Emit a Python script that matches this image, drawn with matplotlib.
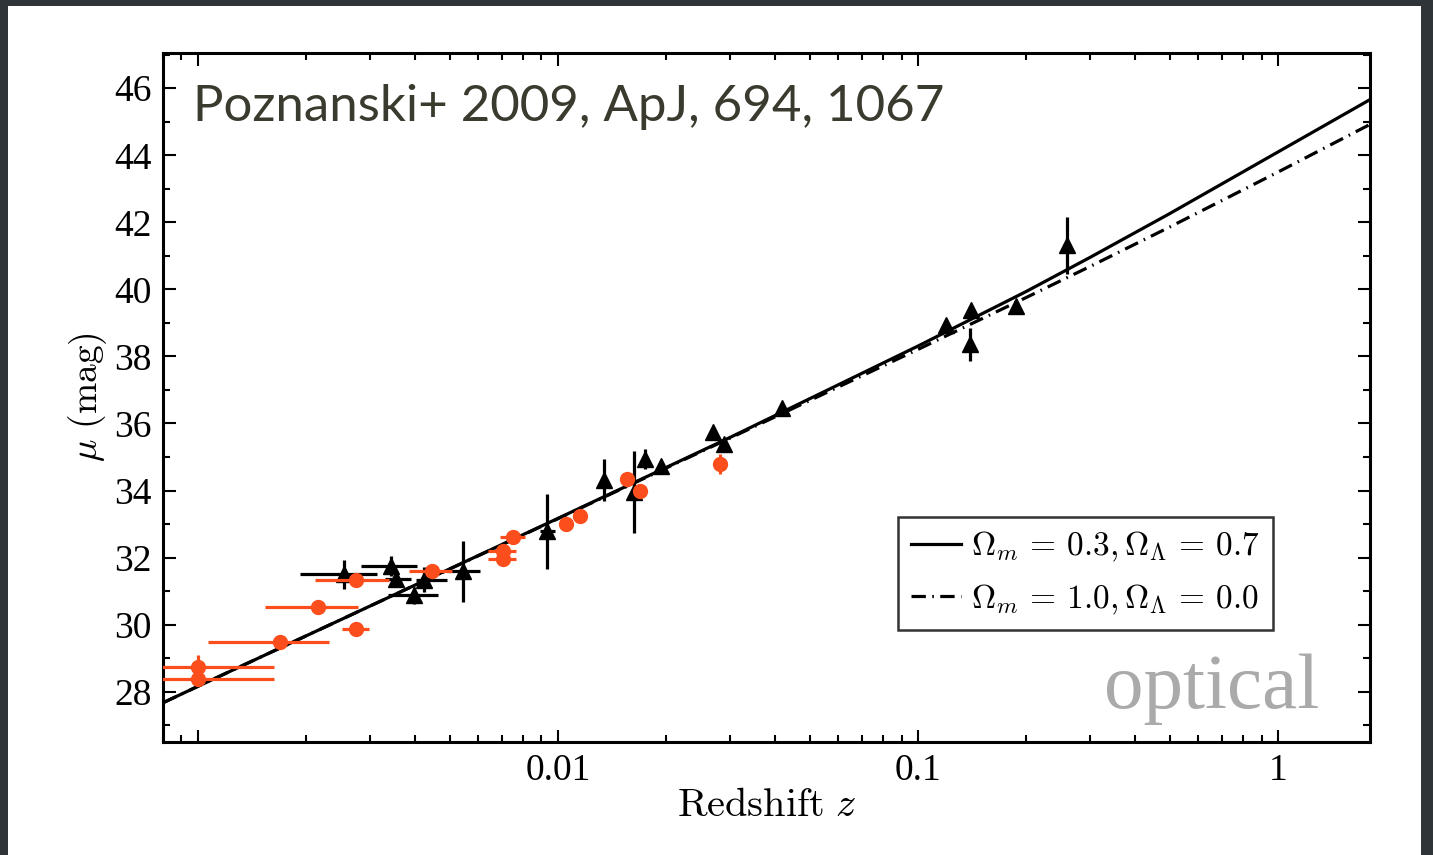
import matplotlib
matplotlib.use("Agg")
import matplotlib.pyplot as plt
import numpy as np
from matplotlib.patches import Rectangle
from matplotlib.ticker import FixedLocator, FixedFormatter, LogLocator, NullFormatter, MultipleLocator

plt.rcParams['mathtext.fontset'] = 'cm'
plt.rcParams['font.family'] = 'Liberation Serif'

# model curves
z_model = [0.0008, 0.001, 0.003, 0.01, 0.03, 0.1, 0.2, 0.3, 0.5, 1.0, 1.8]
mu_lcdm = [27.67, 28.16, 30.55, 33.17, 35.58, 38.31, 39.94, 40.95, 42.26, 44.10, 45.66]
mu_eds = [27.67, 28.16, 30.55, 33.16, 35.56, 38.21, 39.76, 40.68, 41.86, 43.50, 44.92]

# red circles
z_red = [0.001, 0.001, 0.00169, 0.00216, 0.00275, 0.00274, 0.00448, 0.00751,
         0.00705, 0.00705, 0.0105, 0.01149, 0.01556, 0.01686, 0.0281]
mu_red = [28.73, 28.38, 29.47, 30.52, 29.87, 31.32, 31.61, 32.61,
          32.19, 31.96, 33.00, 33.24, 34.33, 34.00, 34.78]
zlo_red = [0.0006, 0.0006, 0.00107, 0.00154, 0.00252, 0.00211, 0.00385, 0.00692,
           0.00641, 0.00641, 0.0105, 0.01149, 0.01556, 0.01686, 0.0281]
zhi_red = [0.00163, 0.00163, 0.00232, 0.00279, 0.00299, 0.00340, 0.00509, 0.00812,
           0.00767, 0.00767, 0.0105, 0.01149, 0.01556, 0.01686, 0.0281]
dmu_red = [0.37, 0.1, 0.1, 0.1, 0.1, 0.1, 0.1, 0.1, 0.1, 0.1, 0.1, 0.1, 0.1, 0.1, 0.3]

# black triangles
z_blk = [0.00255, 0.00344, 0.00354, 0.00398, 0.00425, 0.00546, 0.00933, 0.01346,
         0.01622, 0.01741, 0.01937, 0.02697, 0.02884, 0.0419, 0.1197, 0.140,
         0.139, 0.187, 0.2585]
mu_blk = [31.50, 31.74, 31.36, 30.87, 31.34, 31.59, 32.78, 34.31,
          33.96, 34.95, 34.72, 35.76, 35.39, 36.46, 38.93, 39.39,
          38.36, 39.49, 41.31]
zlo_blk = [0.00192, 0.00283, 0.0033, 0.00337, 0.00403, 0.00493, 0.0089, 0.01346,
           0.01622, 0.01741, 0.01937, 0.02697, 0.02884, 0.0419, 0.1197, 0.140,
           0.139, 0.187, 0.2585]
zhi_blk = [0.00315, 0.00406, 0.0039, 0.00463, 0.00491, 0.00607, 0.0098, 0.01346,
           0.01622, 0.01741, 0.01937, 0.02697, 0.02884, 0.0419, 0.1197, 0.140,
           0.139, 0.187, 0.2585]
dmu_blk = [0.43, 0.3, 0.2, 0.25, 0.37, 0.9, 1.12, 0.63, 1.23, 0.3, 0.1, 0.1,
           0.1, 0.1, 0.1, 0.1, 0.5, 0.1, 0.85]

red = "#fc4e1c"

fig = plt.figure(figsize=(14.33, 8.55), dpi=100)
fig.patch.set_facecolor("#2e3437")
fig.add_artist(Rectangle((8 / 1433, 0), 1413 / 1433, 849 / 855, transform=fig.transFigure,
                         facecolor="white", edgecolor="none", zorder=-10))

ax = fig.add_axes([163 / 1433, 113 / 855, 1207 / 1433, 689 / 855])
ax.set_xscale("log")
ax.set_xlim(8e-4, 1.8)
ax.set_ylim(26.5, 47.05)

ax.plot(z_model, mu_lcdm, color="black", lw=2.3, zorder=2,
        label=r"$\Omega_m\,=\,0.3,\Omega_\Lambda\,=\,0.7$")
ax.plot(z_model, mu_eds, color="black", lw=2.3, dashes=(4.5, 2, 0.5, 2), zorder=2,
        label=r"$\Omega_m\,=\,1.0,\Omega_\Lambda\,=\,0.0$")

z_blk = np.array(z_blk)
ax.errorbar(z_blk, mu_blk,
            xerr=[z_blk - np.array(zlo_blk), np.array(zhi_blk) - z_blk],
            yerr=dmu_blk, fmt="^", color="black", ms=11, elinewidth=2.3,
            capsize=0, zorder=3)

z_red = np.array(z_red)
ax.errorbar(z_red, mu_red,
            xerr=[z_red - np.array(zlo_red), np.array(zhi_red) - z_red],
            yerr=dmu_red, fmt="o", color=red, ms=10, elinewidth=2.3,
            capsize=0, zorder=4)

ax.yaxis.set_major_locator(MultipleLocator(2))
ax.yaxis.set_minor_locator(MultipleLocator(1))
ax.xaxis.set_major_locator(FixedLocator([0.001, 0.01, 0.1, 1]))
ax.xaxis.set_major_formatter(FixedFormatter(["", "0.01", "0.1", "1"]))
ax.xaxis.set_minor_locator(LogLocator(base=10, subs=np.arange(2, 10), numticks=20))
ax.xaxis.set_minor_formatter(NullFormatter())
ax.tick_params(which="both", direction="in", top=True, right=True, width=1.5,
               labelsize=27, pad=8)
ax.tick_params(which="major", length=9)
ax.tick_params(which="minor", length=5)
for s in ax.spines.values():
    s.set_linewidth(2.2)

ax.set_xlabel(r"$\mathrm{Redshift}\ z$", fontsize=29, labelpad=0)
ax.set_ylabel(r"$\mu\ (\mathrm{mag})$", fontsize=27, labelpad=4)

ax.text(0.025, 0.955, "Poznanski+ 2009, ApJ, 694, 1067", transform=ax.transAxes,
        fontsize=36.7, family="Lato", color="#3b3a2e", ha="left", va="top")
ax.text(0.958, 0.049, "optical", transform=ax.transAxes, fontsize=57,
        family="Liberation Serif", color="#aaaaaa", ha="right", va="baseline")

leg = ax.legend(loc="lower right", bbox_to_anchor=(0.9197, 0.1626),
                fontsize=24, frameon=True, fancybox=False, handlelength=1.5,
                handletextpad=0.3, borderpad=0.4, labelspacing=0.55,
                borderaxespad=0)
leg.get_frame().set_edgecolor("black")
leg.get_frame().set_linewidth(1.8)

fig.savefig("out.png", dpi=100, facecolor=fig.get_facecolor())
